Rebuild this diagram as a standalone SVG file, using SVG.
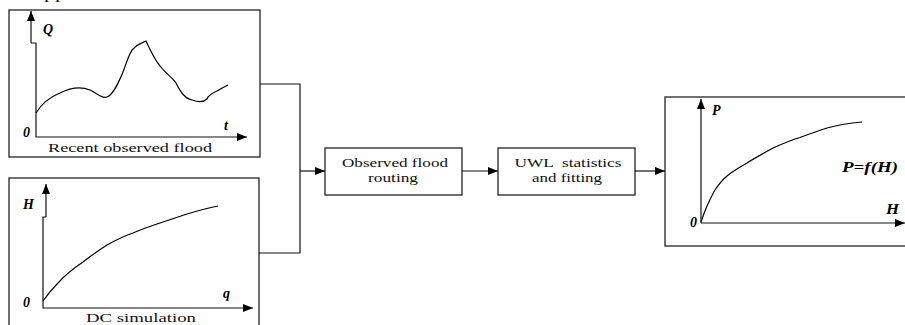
<svg xmlns="http://www.w3.org/2000/svg" width="905" height="325" viewBox="0 0 905 325" font-family="Liberation Serif, Times New Roman, serif">
<style>
.box{fill:#fff;stroke:#333;stroke-width:1.4}
.ln{fill:none;stroke:#111;stroke-width:1.2}
.cv{fill:none;stroke:#000;stroke-width:1.2}
.t{font-family:'Liberation Serif',serif;font-size:13.5px;fill:#111}
.v{font-family:'Liberation Serif',serif;font-size:14px;font-weight:bold;font-style:italic;fill:#000}
</style>
<defs>
<marker id="ah" viewBox="0 0 10 8" refX="10" refY="4" markerWidth="10" markerHeight="8" markerUnits="userSpaceOnUse" orient="auto">
<path d="M0,0 L10,4 L0,8 Z" fill="#000"/>
</marker>
</defs>
<text class="t" x="44" y="-1.5" textLength="22" lengthAdjust="spacingAndGlyphs">pp</text>
<g id="recent-observed-flood">
<rect class="box" x="9" y="10" width="251" height="147"/>
<path class="ln" d="M31,43 V11" marker-end="url(#ah)"/>
<path class="ln" d="M31,43 H36 V137 H247" marker-end="url(#ah)"/>
<path class="cv" d="M36,113 C42,103 50,97 60,93 C70,88 80,86 90,90 C97,93 101,99 107,97 C113,95 118,84 123,72 C127,62 129,52 134,48 C138,44 142,43 146,41 C151,52 155,60 160,66 C166,74 172,77 176,83 C180,91 184,98 192,100 C198,102 204,102 207,99 C208,96 210,94 217,91 C222,88 226,86 228,85"/>
<text class="v" x="43" y="34">Q</text>
<text class="v" x="23" y="137">0</text>
<text class="v" x="224" y="130">t</text>
<text class="t" x="130" y="152" text-anchor="middle" textLength="164" lengthAdjust="spacingAndGlyphs">Recent observed flood</text>
</g>
<g id="dc-simulation">
<rect class="box" x="9" y="178" width="250" height="160"/>
<path class="ln" d="M46,217 V184" marker-end="url(#ah)"/>
<path class="ln" d="M46,217 H43 V308 H253" marker-end="url(#ah)"/>
<path class="cv" d="M43,301 C48,294 53,288 58,283 C66,274 74,268 83,262 C92,255 99,250 107,245 C116,240 124,236 133,233 C142,229 151,226 160,223 C169,220 178,217 187,214 C197,211 208,208 218,206"/>
<text class="v" x="23" y="209">H</text>
<text class="v" x="23" y="307">0</text>
<text class="v" x="223" y="298">q</text>
<text class="t" x="141" y="322" text-anchor="middle" textLength="110" lengthAdjust="spacingAndGlyphs">DC simulation</text>
</g>
<g id="observed-flood-routing">
<rect class="box" x="325" y="148" width="137" height="47"/>
<text class="t" x="395" y="166.5" text-anchor="middle" textLength="106" lengthAdjust="spacingAndGlyphs">Observed flood</text>
<text class="t" x="393" y="181.5" text-anchor="middle" textLength="50" lengthAdjust="spacingAndGlyphs">routing</text>
</g>
<g id="uwl-statistics">
<rect class="box" x="498" y="148" width="137" height="47"/>
<text class="t" x="568" y="166.5" text-anchor="middle" textLength="107" lengthAdjust="spacingAndGlyphs" xml:space="preserve">UWL  statistics</text>
<text class="t" x="567" y="181.5" text-anchor="middle" textLength="70" lengthAdjust="spacingAndGlyphs">and fitting</text>
</g>
<g id="p-f-h">
<rect class="box" x="665" y="97" width="250" height="149"/>
<path class="ln" d="M701,223 V99" marker-end="url(#ah)"/>
<path class="ln" d="M701,223 H905" marker-end="url(#ah)"/>
<path class="cv" d="M701,222 C703,216 705,211 707,206 C710,200 712,195 715,190 C719,184 722,180 727,176 C733,171 740,167 747,163 C755,158 764,153 773,148 C782,144 791,140 800,137.5 C809,134 818,131 827,128 C838,125 850,123 862,122"/>
<text class="v" x="712" y="115">P</text>
<text class="v" x="690" y="227">0</text>
<text class="v" x="886" y="214" textLength="13" lengthAdjust="spacingAndGlyphs">H</text>
<text class="v" x="842" y="172" textLength="56" lengthAdjust="spacingAndGlyphs">P=f(H)</text>
</g>
<g id="connectors">
<path class="ln" d="M260,84 H300 V253 H259"/>
<path class="ln" d="M300,171 H325" marker-end="url(#ah)"/>
<path class="ln" d="M462,171 H498" marker-end="url(#ah)"/>
<path class="ln" d="M635,171 H665" marker-end="url(#ah)"/>
</g>
</svg>
